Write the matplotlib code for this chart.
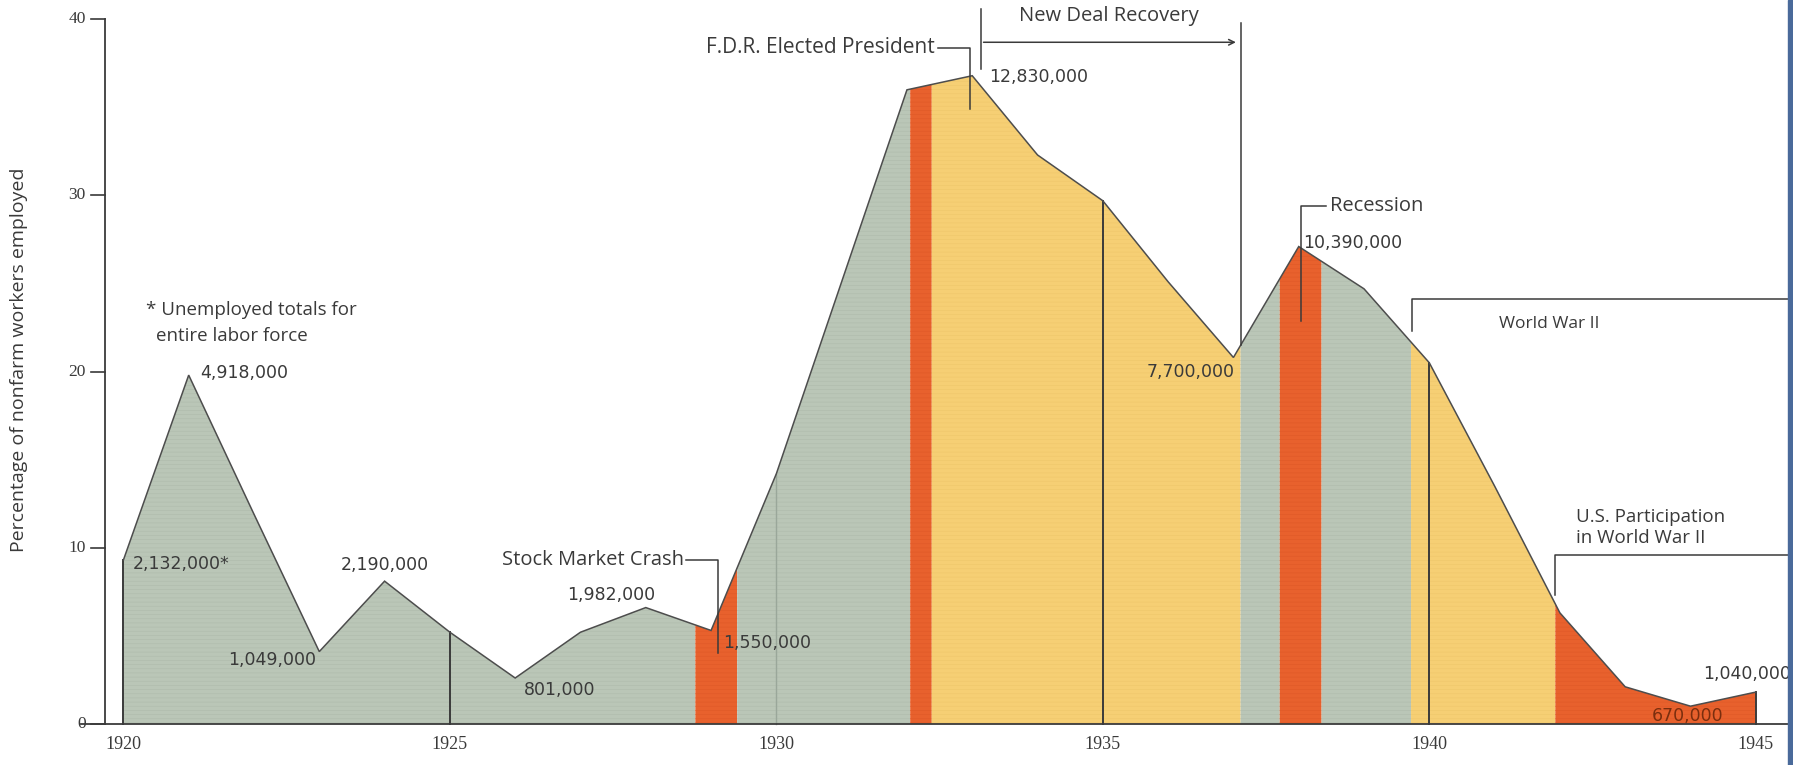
"""Unemployment 1920-1945: percentage of nonfarm workers unemployed, with
period shading (crash, FDR, New Deal, recession, World War II)."""
import numpy as np
import matplotlib
matplotlib.use("Agg")
import matplotlib.pyplot as plt

W, H = 1793, 765
DPI = 100

# ── Data ──────────────────────────────────────────────────────────────────────
years = [1920, 1921, 1922, 1923, 1924, 1925, 1926, 1927, 1928, 1929, 1930, 1931,
         1932, 1933, 1934, 1935, 1936, 1937, 1938, 1939, 1940, 1941, 1942, 1943,
         1944, 1945]
pct = [9.3, 19.8, 11.9, 4.1, 8.1, 5.2, 2.6, 5.2, 6.6, 5.3, 14.2, 25.1,
       36.0, 36.8, 32.3, 29.7, 25.1, 20.8, 27.1, 24.7, 20.5, 13.5, 6.3, 2.1,
       1.0, 1.8]

# shaded periods (edges in years) and their kind
period_edges = [1920, 1928.76, 1929.40, 1932.05, 1932.38, 1937.11, 1937.71,
                1938.35, 1939.72, 1941.93, 1945]
period_kind = ["calm", "crisis", "calm", "crisis", "newdeal", "calm", "crisis",
               "calm", "newdeal", "crisis"]

# unemployed totals written next to the curve
total_years = [1920, 1921, 1923, 1924, 1926, 1928, 1929, 1933, 1937, 1938, 1944, 1945]
total_text = ["2,132,000*", "4,918,000", "1,049,000", "2,190,000", "801,000",
              "1,982,000", "1,550,000", "12,830,000", "7,700,000", "10,390,000",
              "670,000", "1,040,000"]

y_ticks = [0, 10, 20, 30, 40]
x_ticks = [1920, 1925, 1930, 1935, 1940, 1945]
year_marks = [1920, 1925, 1930, 1935, 1940, 1945]

# ── Style ─────────────────────────────────────────────────────────────────────
COLORS = {"calm": "#bac6b7", "crisis": "#e8612d", "newdeal": "#f6cf74"}
HATCH = {"calm": "#b0bcad", "crisis": "#e05a28", "newdeal": "#f0c86c"}
INK = "#3a3a3a"
LINE = "#4d4d4d"
WORD_FONT = "Open Sans"
NUM_FONT = "DejaVu Sans"
plt.rcParams["hatch.linewidth"] = 0.5

X0, X1 = 1918.11, 1945.57
Y0, Y1 = -2.34, 41.1


def curve(x):
    return np.interp(x, years, pct)


# ── Areas ─────────────────────────────────────────────────────────────────────
def areas(ax):
    for a, b, kind in zip(period_edges[:-1], period_edges[1:], period_kind):
        xs = np.array(sorted(set([a, b] + [y for y in years if a < y < b])))
        ax.fill_between(xs, 0, curve(xs), facecolor=COLORS[kind],
                        edgecolor=HATCH[kind], hatch="----", lw=0, zorder=1)
    ax.plot(years, pct, color=LINE, lw=1.1, zorder=3, solid_joinstyle="miter")
    for yr in year_marks:
        c, lw = (INK, 1.4) if yr != 1930 else ("#9aa79a", 1.0)
        ax.plot([yr, yr], [0, curve(yr)], color=c, lw=lw, zorder=2)


# ── Axes ──────────────────────────────────────────────────────────────────────
def axes_lines(ax):
    ax_x = 1919.72
    ax.plot([ax_x, ax_x], [0, 40], color=INK, lw=1.3, zorder=4)
    ax.plot([1919.35, X1], [0, 0], color=INK, lw=1.3, zorder=4)
    for t in y_ticks:
        ax.plot([1919.50, ax_x], [t, t], color=INK, lw=1.2, zorder=4)
        ax.text(1919.42, t, str(t), ha="right", va="center", fontsize=12.5,
                family="Liberation Serif", color=INK)
    for t in x_ticks:
        ax.text(t, -1.15, str(t), ha="center", va="center", fontsize=13,
                family="Liberation Serif", color=INK)
    ax.text(1918.40, 20.7, "Percentage of nonfarm workers employed", rotation=90,
            ha="center", va="center", fontsize=14, family=WORD_FONT, color=INK)


# ── Labels ────────────────────────────────────────────────────────────────────
def totals(ax):
    # position of each label relative to its point (dx years, dy %), alignment
    offs = [(0.15, -0.2, "left"), (0.17, 0.1, "left"), (-1.40, -0.5, "left"),
            (-0.67, 0.9, "left"), (0.13, -0.7, "left"), (-1.20, 0.7, "left"),
            (0.19, -0.7, "left"), (0.26, -0.1, "left"), (0.02, -0.8, "right"),
            (0.07, 0.2, "left"), (-0.59, -0.55, "left"), (-0.80, 1.0, "left")]
    for yr, txt, (dx, dy, ha) in zip(total_years, total_text, offs):
        col = "#7a2e0e" if txt == "670,000" else INK
        ax.text(yr + dx, curve(yr) + dy, txt, ha=ha, va="center",
                fontsize=12.5, family=NUM_FONT, color=col, zorder=6)
    ax.text(1920.35, 23.5, "* Unemployed totals for", ha="left", va="center",
            fontsize=13.5, family=WORD_FONT, color=INK)
    ax.text(1920.50, 22.0, "entire labor force", ha="left", va="center",
            fontsize=13.5, family=WORD_FONT, color=INK)


def brackets(ax):
    kw = dict(color=INK, lw=1.1, zorder=5)
    tk = dict(family=WORD_FONT, color=INK, va="center")
    # Stock Market Crash
    ax.plot([1928.62, 1929.10, 1929.10], [9.3, 9.3, 4.0], **kw)
    ax.text(1928.58, 9.3, "Stock Market Crash", ha="right", fontsize=14.5, **tk)
    # F.D.R.
    ax.plot([1932.47, 1932.96, 1932.96], [38.4, 38.4, 34.9], **kw)
    ax.text(1932.43, 38.4, "F.D.R. Elected President", ha="right", fontsize=15, **tk)
    # New Deal Recovery
    ax.plot([1933.13, 1933.13], [37.2, 40.6], **kw)
    ax.plot([1937.11, 1937.11], [curve(1937.11), 39.8], **kw)
    ax.annotate("", xy=(1937.08, 38.7), xytext=(1933.13, 38.7),
                arrowprops=dict(arrowstyle="->", color=INK, lw=1.1), zorder=5)
    ax.text(1935.1, 40.2, "New Deal Recovery", ha="center", fontsize=14.5, **tk)
    # Recession
    ax.plot([1938.42, 1938.04, 1938.04], [29.4, 29.4, 22.9], **kw)
    ax.text(1938.48, 29.4, "Recession", ha="left", fontsize=14.5, **tk)
    # World War II
    ax.plot([1939.74, 1939.74, X1], [22.3, 24.1, 24.1], **kw)
    ax.text(1941.84, 22.7, "World War II", ha="center", fontsize=12.5, **tk)
    # U.S. participation
    ax.plot([1941.93, 1941.93, X1], [7.3, 9.6, 9.6], **kw)
    ax.text(1942.24, 11.75, "U.S. Participation", ha="left", fontsize=13.5, **tk)
    ax.text(1942.24, 10.55, "in World War II", ha="left", fontsize=13.5, **tk)


# ── Main ──────────────────────────────────────────────────────────────────────
def make():
    fig = plt.figure(figsize=(W / DPI, H / DPI), dpi=DPI)
    fig.patch.set_facecolor("white")
    ax = fig.add_axes([0, 0, 1, 1])
    ax.set_xlim(X0, X1)
    ax.set_ylim(Y0, Y1)
    ax.axis("off")

    areas(ax)
    axes_lines(ax)
    totals(ax)
    brackets(ax)

    # slide border at the right edge
    fig.patches.append(plt.Rectangle((0.9972, 0), 0.0028, 1, transform=fig.transFigure,
                                     color="#4a6a9a", zorder=10))
    fig.savefig("out.png", dpi=DPI)
    plt.close(fig)


if __name__ == "__main__":
    make()
